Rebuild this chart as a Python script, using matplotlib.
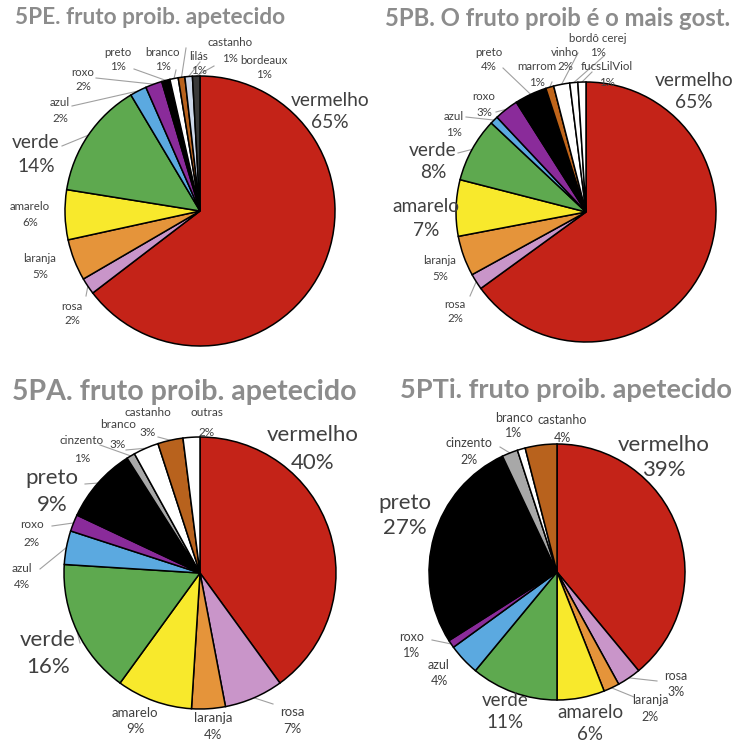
import matplotlib
matplotlib.use("Agg")
import matplotlib.pyplot as plt
import numpy as np

plt.rcParams['font.family'] = ['Lato', 'DejaVu Sans']

W, H = 745, 741

COL = {
    'vermelho': '#c42318', 'rosa': '#c995c9', 'laranja': '#e5943a',
    'amarelo': '#f8e92c', 'verde': '#5ea94f', 'azul': '#5ba9e0',
    'roxo': '#8a2b9a', 'preto': '#000000', 'branco': '#ffffff',
    'castanho': '#b8621d', 'cinzento': '#a8a8a8', 'lilas': '#cdd8ea',
    'bordeaux': '#3a3a3a', 'marrom': '#c0651a', 'outras': '#ffffff',
}

# ---- data ----
pe_titles = "5PE. fruto proib. apetecido"
pe_names = ['vermelho', 'rosa', 'laranja', 'amarelo', 'verde', 'azul', 'roxo',
            'preto', 'branco', 'castanho', 'lilás', 'bordeaux']
pe_vals = [65, 2, 5, 6, 14, 2, 2, 1, 1, 0.8, 0.9, 0.9]
pe_pct = ['65%', '2%', '5%', '6%', '14%', '2%', '2%', '1%', '1%', '1%', '1%', '1%']
pe_cols = ['vermelho', 'rosa', 'laranja', 'amarelo', 'verde', 'azul', 'roxo',
           'preto', 'branco', 'castanho', 'lilas', 'bordeaux']

pb_title = "5PB. O fruto proib é o mais gost."
pb_names = ['vermelho', 'rosa', 'laranja', 'amarelo', 'verde', 'azul', 'roxo',
            'preto', 'marrom', 'vinho', 'bordô cerej', 'fucsLilViol']
pb_vals = [65, 2, 5, 7, 8, 1, 3, 4, 1, 2, 1, 1]
pb_pct = ['65%', '2%', '5%', '7%', '8%', '1%', '3%', '4%', '1%', '2%', '1%', '1%']
pb_cols = ['vermelho', 'rosa', 'laranja', 'amarelo', 'verde', 'azul', 'roxo',
           'preto', 'marrom', 'branco', 'branco', 'branco']

pa_title = "5PA. fruto proib. apetecido"
pa_names = ['vermelho', 'rosa', 'laranja', 'amarelo', 'verde', 'azul', 'roxo',
            'preto', 'cinzento', 'branco', 'castanho', 'outras']
pa_vals = [40, 7, 4, 9, 16, 4, 2, 9, 1, 3, 3, 2]
pa_pct = ['40%', '7%', '4%', '9%', '16%', '4%', '2%', '9%', '1%', '3%', '3%', '2%']
pa_cols = ['vermelho', 'rosa', 'laranja', 'amarelo', 'verde', 'azul', 'roxo',
           'preto', 'cinzento', 'branco', 'castanho', 'outras']

pt_title = "5PTi. fruto proib. apetecido"
pt_names = ['vermelho', 'rosa', 'laranja', 'amarelo', 'verde', 'azul', 'roxo',
            'preto', 'cinzento', 'branco', 'castanho']
pt_vals = [39, 3, 2, 6, 11, 4, 1, 27, 2, 1, 4]
pt_pct = ['39%', '3%', '2%', '6%', '11%', '4%', '1%', '27%', '2%', '1%', '4%']
pt_cols = ['vermelho', 'rosa', 'laranja', 'amarelo', 'verde', 'azul', 'roxo',
           'preto', 'cinzento', 'branco', 'castanho']

# ---- layout (pixel coordinates, y from top) ----
# label: (x, y_name, y_pct, size, leader_end or None)
S = 8.3
pe_layout = dict(center=(200, 211), r=135, title=(15, 18, 16.3), labels=[
    (330, 100, 123, 13.8, None),
    (72, 306, 321, S, (86, 296)),
    (40, 259, 275, S, None),
    (30, 207, 223, S, None),
    (36, 142, 166, 13.8, (62, 146)),
    (60, 102, 118, S, (72, 106)),
    (83, 72, 87, S, (96, 78)),
    (118, 52, 67, S, (134, 69)),
    (163, 52, 67, S, (176, 70)),
    (230, 43, 58, S, (186, 48)),
    (199, 57, 71, S, (200, 62)),
    (264, 60, 75, S, (214, 66)),
])
pb_layout = dict(center=(586, 212), r=130, title=(385, 18, 17.2), labels=[
    (694, 80, 103, 13.8, None),
    (455, 304, 319, S, (470, 296)),
    (440, 260, 277, S, None),
    (426, 207, 230, 13.8, None),
    (433, 150, 173, 13.8, (458, 153)),
    (454, 116, 132, S, (466, 117)),
    (484, 97, 113, S, (496, 112)),
    (489, 52, 67, S, (503, 68)),
    (537, 67, 82, S, (552, 82)),
    (565, 52, 67, S, (578, 53)),
    (598, 39, 52, S, (604, 56)),
    (607, 67, 82, S, (592, 72)),
])
pa_layout = dict(center=(200, 573), r=136, title=(12, 392, 20.5), labels=[
    (313, 435, 463, 16, None),
    (292, 712, 729, 9.5, (273, 704)),
    (213, 718, 735, 9.5, None),
    (135, 713, 729, 9.5, None),
    (48, 640, 667, 16, (80, 643)),
    (22, 568, 585, 8.5, (40, 569)),
    (32, 525, 542, 8.5, (52, 526)),
    (52, 478, 505, 16, (85, 484)),
    (82, 440, 458, 8.5, (100, 445)),
    (118, 425, 444, 8.5, (126, 450)),
    (148, 413, 433, 8.5, (158, 437)),
    (207, 413, 433, 8.5, None),
])
pt_layout = dict(center=(557, 572), r=128, title=(400, 390, 19.6), labels=[
    (664, 445, 470, 16, None),
    (676, 676, 692, 9, (657, 681)),
    (650, 700, 717, 9, (634, 697)),
    (590, 713, 734, 13.5, None),
    (505, 700, 722, 13.5, None),
    (439, 665, 681, 9, None),
    (412, 637, 653, 9, (432, 640)),
    (405, 503, 528, 16, None),
    (469, 443, 460, 9, (500, 447)),
    (514, 418, 433, 9, None),
    (562, 420, 438, 9, None),
])

fig = plt.figure(figsize=(W / 100, H / 100), dpi=100)
ax = fig.add_axes([0, 0, 1, 1])
ax.set_xlim(0, W)
ax.set_ylim(0, H)
ax.set_aspect('equal')
ax.axis('off')

TXT = '#404040'
LINE = '#a0a0a0'


def draw(title, names, vals, pct, cols, lay):
    cx, cy = lay['center']
    r = lay['r']
    wedges, _ = ax.pie(vals, colors=[COL[c] for c in cols], startangle=90,
                       counterclock=False, center=(cx, H - cy), radius=r,
                       wedgeprops=dict(edgecolor='black', linewidth=1.1),
                       frame=True)
    tx, ty, ts = lay['title']
    ax.text(tx, H - ty, title, fontsize=ts, fontweight='bold', color='#8c8c8c',
            ha='left', va='center')
    for w, n, p, lab in zip(wedges, names, pct, lay['labels']):
        x, yn, yp, fs, lead = lab
        ax.text(x, H - yn, n, fontsize=fs, color=TXT, ha='center', va='center')
        ax.text(x, H - yp, p, fontsize=fs, color=TXT, ha='center', va='center')
        if lead is not None:
            ang = np.deg2rad((w.theta1 + w.theta2) / 2)
            rx = cx + r * np.cos(ang)
            ry = (H - cy) + r * np.sin(ang)
            ax.plot([lead[0], rx], [H - lead[1], ry], color=LINE, lw=0.8,
                    zorder=0.5)


draw(pe_titles, pe_names, pe_vals, pe_pct, pe_cols, pe_layout)
draw(pb_title, pb_names, pb_vals, pb_pct, pb_cols, pb_layout)
draw(pa_title, pa_names, pa_vals, pa_pct, pa_cols, pa_layout)
draw(pt_title, pt_names, pt_vals, pt_pct, pt_cols, pt_layout)

ax.set_xlim(0, W)
ax.set_ylim(0, H)
ax.axis('off')
fig.savefig('out.png', dpi=100, facecolor='white')
